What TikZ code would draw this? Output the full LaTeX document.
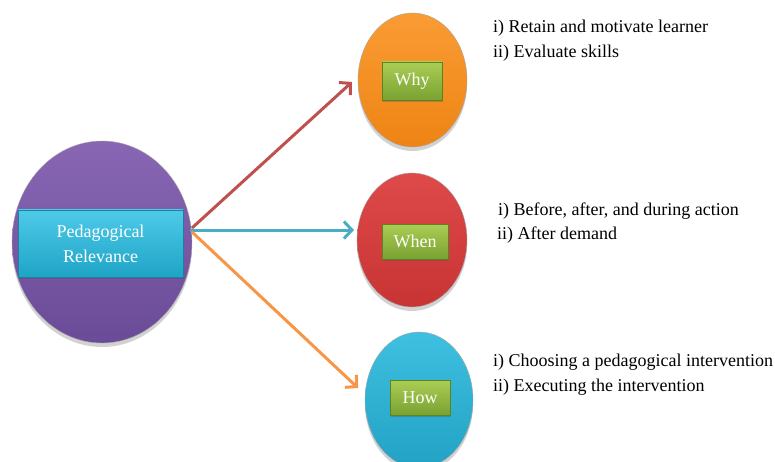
\documentclass[tikz,border=0pt]{standalone}
\usepackage{fontspec}
\setmainfont{Liberation Serif}
\newfontfamily\timesf{Liberation Serif}
\usetikzlibrary{arrows.meta,shadows,shapes.geometric}
\definecolor{purpT}{HTML}{8866B4}
\definecolor{purpB}{HTML}{6A4B97}
\definecolor{cyanT}{HTML}{4ECAE8}
\definecolor{cyanB}{HTML}{1FA4C6}
\definecolor{cyanD}{HTML}{17839F}
\definecolor{orgT}{HTML}{F99C34}
\definecolor{orgB}{HTML}{EE8414}
\definecolor{redT}{HTML}{DE4A4A}
\definecolor{redB}{HTML}{C83434}
\definecolor{bluT}{HTML}{40C0E0}
\definecolor{bluB}{HTML}{22A2C4}
\definecolor{grnT}{HTML}{AACD54}
\definecolor{grnB}{HTML}{7AA232}
\definecolor{grnD}{HTML}{5B8420}
\definecolor{arrR}{HTML}{C0504D}
\definecolor{arrB}{HTML}{4BACC6}
\definecolor{arrO}{HTML}{F79646}
\tikzset{
  bubble/.style={ellipse, inner sep=0pt, draw=black!35, line width=0.4pt,
    drop shadow={opacity=0.25, shadow xshift=0pt, shadow yshift=-4pt, fill=black!70}},
  greenbox/.style={rectangle, inner sep=0pt, top color=grnT, bottom color=grnB,
    draw=grnD, line width=0.6pt, text=white, font=\timesf\fontsize{18}{22}\selectfont,
    drop shadow={opacity=0.3, shadow xshift=1pt, shadow yshift=-2pt, fill=black!70}},
  linkarrow/.style={line width=3pt, -{Straight Barb[length=8pt,width=17pt,line width=3pt]}},
  itemtext/.style={anchor=base west, inner sep=0pt, font=\timesf\fontsize{18}{22}\selectfont}
}
\begin{document}
\begin{tikzpicture}[x=1pt,y=-1pt]
\useasboundingbox (0,0) rectangle (775,462);

% main bubble
\node[bubble, minimum width=180pt, minimum height=202pt, top color=purpT, bottom color=purpB] (ped) at (102,242) {};
\node[rectangle, inner sep=0pt, minimum width=165pt, minimum height=67pt,
  top color=cyanT, bottom color=cyanB, draw=cyanD, line width=0.6pt,
  text=white, align=center, font=\timesf\fontsize{18}{25}\selectfont,
  drop shadow={opacity=0.3, shadow xshift=1pt, shadow yshift=-2pt, fill=black!70}]
  (pedbox) at (100.5,243.5) {Pedagogical\\Relevance};

% right bubbles
\node[bubble, minimum width=109pt, minimum height=134pt, top color=orgT, bottom color=orgB] (why) at (412.5,80) {};
\node[greenbox, minimum width=60pt, minimum height=38pt] (whybox) at (412,81) {Why};

\node[bubble, minimum width=110pt, minimum height=134pt, top color=redT, bottom color=redB] (when) at (412,240) {};
\node[greenbox, minimum width=66pt, minimum height=35pt] (whenbox) at (415,241.5) {When};

\node[bubble, minimum width=108pt, minimum height=136pt, top color=bluT, bottom color=bluB] (how) at (419,400) {};
\node[greenbox, minimum width=60pt, minimum height=35pt] (howbox) at (420,397.5) {How};

% connectors
\coordinate (src1) at (192,228);
\coordinate (src2) at (190,230);
\coordinate (src3) at (192,232);
\coordinate (tipR) at (352,82);
\coordinate (tipB) at (354,230);
\coordinate (tipO) at (358,388);
\draw[linkarrow, arrR] (src1) -- (tipR);
\draw[linkarrow, arrB] (src2) -- (tipB);
\draw[linkarrow, arrO] (src3) -- (tipO);

% texts
\node[itemtext] (t1a) at (493,33) {i) Retain and motivate learner};
\node[itemtext] (t1b) at (493,57.5) {ii) Evaluate skills};
\node[itemtext] (t2a) at (498,215) {i) Before, after, and during action};
\node[itemtext] (t2b) at (497,239) {ii) After demand};
\node[itemtext] (t3a) at (493,366) {i) Choosing a pedagogical intervention};
\node[itemtext] (t3b) at (493,391) {ii) Executing the intervention};
\end{tikzpicture}
\end{document}
